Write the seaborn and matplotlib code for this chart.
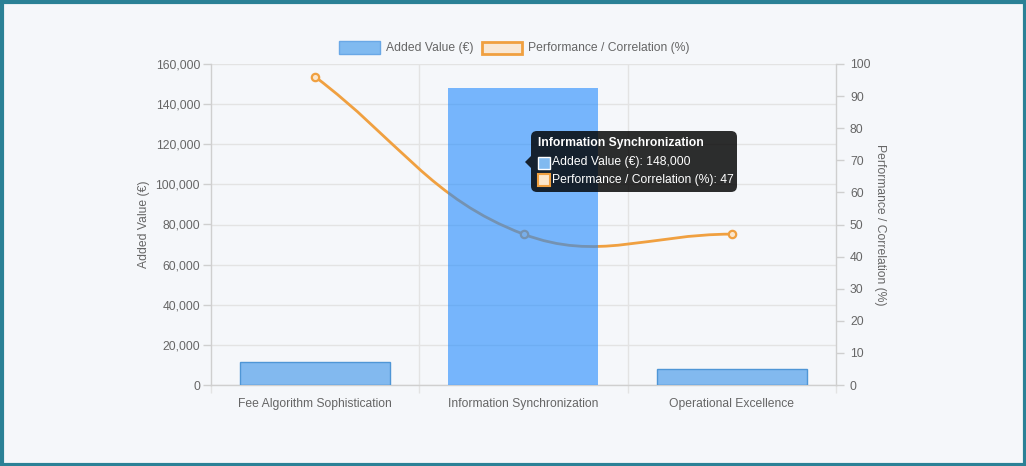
import numpy as np
import matplotlib
matplotlib.use("Agg")
import matplotlib.pyplot as plt
import seaborn as sns
from matplotlib.patches import PathPatch, FancyBboxPatch, Polygon, Rectangle
from matplotlib.path import Path
from matplotlib.ticker import FuncFormatter, FixedLocator

# --- data ---
categories = ["Fee Algorithm Sophistication", "Information Synchronization", "Operational Excellence"]
added_value = [11500, 148000, 8000]
performance = [96, 47, 47]
left_ticks = [0, 20000, 40000, 60000, 80000, 100000, 120000, 140000, 160000]
right_ticks = [0, 10, 20, 30, 40, 50, 60, 70, 80, 90, 100]

BG = "#f5f7fa"
FRAME = "#2b8196"
TXT = "#666666"
GRID = "#e3e3e3"
ORANGE = "#f0a040"
FS = 8.7
PX = 0.72  # one pixel in points at dpi 100

sns.set_theme(style="white")
plt.rcParams["font.family"] = ["Liberation Sans", "DejaVu Sans"]

fig = plt.figure(figsize=(10.26, 4.66), dpi=100, facecolor=BG)
W, H = 1026, 466

# plot area in pixels: x 211..836, y 64..385 (from top)
ax2 = fig.add_axes([211 / W, (H - 385) / H, (836 - 211) / W, (385 - 64) / H])
ax = ax2.twinx()  # bars on top of the line, like the reference
ax.yaxis.tick_left()
ax.yaxis.set_label_position("left")
ax2.yaxis.tick_right()
ax2.yaxis.set_label_position("right")
ax2.set_facecolor(BG)
ax.patch.set_visible(False)

# bars
bar_cols = [(0.21, 0.57, 0.91, 0.6), (0.13, 0.54, 1.0, 0.6), (0.21, 0.57, 0.91, 0.6)]
sns.barplot(x=categories, y=added_value, ax=ax, width=0.72, palette=bar_cols,
            hue=categories, legend=False, saturation=1)
for i, p in enumerate(ax.patches):
    p.set_edgecolor("#4f96d6" if i != 1 else (0.13, 0.54, 1.0, 0.0))
    p.set_linewidth(1.0)
    p.set_zorder(3)

ax.set_xlim(-0.5, 2.5)
ax.set_ylim(0, 160000)
ax2.set_ylim(0, 100)
ax.yaxis.set_major_locator(FixedLocator(left_ticks))
ax2.yaxis.set_major_locator(FixedLocator(right_ticks))
ax.yaxis.set_major_formatter(FuncFormatter(lambda v, _: f"{int(v):,}"))

# grid
ax2.set_axisbelow(True)
for yv in left_ticks:
    ax2.axhline(yv / 1600, color=GRID, lw=1, zorder=0)
for xb in [0.5, 1.5]:
    ax2.axvline(xb, color=GRID, lw=1, zorder=0)

# spline line (Chart.js style, tension 0.4) computed in pixel space
t = 0.4
pts = ax2.transData.transform(np.column_stack([np.arange(len(performance)), performance]))
n = len(pts)
cps = []
for i in range(n):
    prev = pts[i - 1] if i > 0 else pts[i]
    nxt = pts[i + 1] if i < n - 1 else pts[i]
    d01 = np.hypot(*(pts[i] - prev))
    d12 = np.hypot(*(nxt - pts[i]))
    s01 = d01 / (d01 + d12) if d01 + d12 else 0
    s12 = d12 / (d01 + d12) if d01 + d12 else 0
    cps.append((pts[i] - t * s01 * (nxt - prev), pts[i] + t * s12 * (nxt - prev)))
verts = [pts[0]]
codes = [Path.MOVETO]
for i in range(n - 1):
    verts += [cps[i][1], cps[i + 1][0], pts[i + 1]]
    codes += [Path.CURVE4] * 3
verts = ax2.transData.inverted().transform(np.array(verts))
ax2.add_patch(PathPatch(Path(verts, codes), fill=False, edgecolor=ORANGE, lw=2, zorder=2))
sns.scatterplot(x=[0, 1, 2], y=performance, ax=ax2, s=28, color="#fbe6cc",
                edgecolor=ORANGE, linewidth=1.6, zorder=4)

# ticks and spines
for a in (ax, ax2):
    for s in a.spines.values():
        s.set_visible(False)
for s in ("left", "bottom", "right"):
    ax2.spines[s].set_visible(True)
    ax2.spines[s].set_color("#cfcfcf")
    ax2.spines[s].set_linewidth(1)

ax.tick_params(axis="y", colors="#cfcfcf", labelcolor=TXT, length=8 * PX, width=1,
               labelsize=FS, pad=3 * PX, left=True, right=False)
ax2.tick_params(axis="y", colors="#cfcfcf", labelcolor=TXT, length=8 * PX, width=1,
                labelsize=FS, pad=6 * PX, right=True, left=False)
ax.tick_params(axis="x", which="both", bottom=False, labelbottom=False)
ax2.xaxis.set_major_locator(FixedLocator([0, 1, 2]))
ax2.set_xticklabels(categories)
ax2.tick_params(axis="x", length=0, labelsize=FS, labelcolor=TXT, pad=13 * PX, labelbottom=True)
ax2.xaxis.set_minor_locator(FixedLocator([-0.5, 0.5, 1.5, 2.5]))
ax2.tick_params(axis="x", which="minor", length=8 * PX, width=1, color="#e3e3e3", bottom=True)
ax2.set_xlabel("")
ax.set_xlabel("")

ax.set_ylabel("Added Value (€)", color=TXT, fontsize=FS, labelpad=5 * PX)
ax2.set_ylabel("Performance / Correlation (%)", color=TXT, fontsize=FS,
               rotation=-90, labelpad=16 * PX)

# legend
fig.patches.append(Rectangle((339, H - 54), 41, 13, transform=None, facecolor="#80baf0",
                             edgecolor="#6aa8e6", lw=1))
fig.text(386 / W, (H - 47.5) / H, "Added Value (€)", color=TXT, fontsize=FS, va="center")
fig.patches.append(Rectangle((482, H - 53.5), 40, 12, transform=None, facecolor="#f8e8d6",
                             edgecolor=ORANGE, lw=2))
fig.text(528 / W, (H - 47.5) / H, "Performance / Correlation (%)", color=TXT, fontsize=FS,
         va="center")

# tooltip on the hovered bar
fig.patches.append(FancyBboxPatch((531, H - 192), 206, 61, transform=None,
                                  boxstyle="round,pad=0,rounding_size=6",
                                  facecolor=(0, 0, 0, 0.82), edgecolor="none", zorder=10))
fig.patches.append(Polygon([(525, H - 162), (531, H - 156), (531, H - 168)], closed=True,
                           transform=None, facecolor=(0, 0, 0, 0.82), edgecolor="none", zorder=10))
fig.text(538 / W, (H - 143) / H, "Information Synchronization", color="white", fontsize=FS,
         fontweight="bold", va="center", zorder=11)
fig.patches.append(Rectangle((538, H - 169), 12, 12, transform=None, facecolor="#80baf0",
                             edgecolor="white", lw=1, zorder=11))
fig.text(552 / W, (H - 162.5) / H, "Added Value (€): 148,000", color="white", fontsize=FS,
         va="center", zorder=11)
fig.patches.append(Rectangle((538, H - 186), 12, 12, transform=None, facecolor="#fbe6cc",
                             edgecolor=ORANGE, lw=1.5, zorder=11))
fig.text(552 / W, (H - 179.5) / H, "Performance / Correlation (%): 47", color="white",
         fontsize=FS, va="center", zorder=11)

# teal frame
fig.patches.append(Rectangle((1.5, 1.5), W - 3, H - 3, transform=None, fill=False,
                             edgecolor=FRAME, lw=3, zorder=20))

fig.savefig("out.png", dpi=100, facecolor=BG)
